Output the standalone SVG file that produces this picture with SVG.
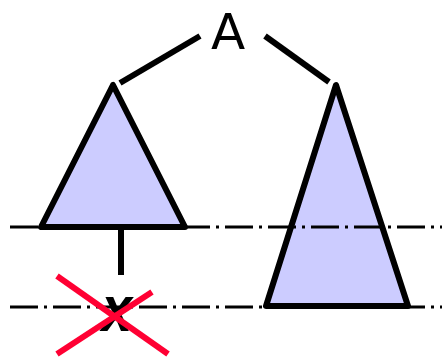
<svg xmlns="http://www.w3.org/2000/svg" width="442" height="358" viewBox="0 0 442 358">
<style>
.tri{fill:#ccccff;stroke:#000;stroke-width:6;stroke-linejoin:round}
.edge{stroke:#000;stroke-width:6;fill:none}
.guide{stroke:#000;stroke-width:3;stroke-dasharray:28,6,3,6;fill:none}
.cross{stroke:#ff0033;stroke-width:6;fill:none}
.lbl{font-family:"DejaVu Sans",sans-serif;fill:#000}
</style>
<rect width="442" height="358" fill="#fff"/>
<g id="connectors">
<line class="edge" x1="120" y1="83" x2="200" y2="36"/>
<line class="edge" x1="265" y1="36" x2="329" y2="82"/>
<line class="edge" x1="121" y1="229" x2="121" y2="275"/>
</g>
<g id="nodeA"><text class="lbl" x="228" y="49" font-size="50" text-anchor="middle">A</text></g>
<g id="leftTree"><polygon class="tri" points="113,85 41,227 185,227"/></g>
<g id="rightTree"><polygon class="tri" points="336,85 266,306 408,306"/></g>
<g id="guides">
<line class="guide" x1="10" y1="227" x2="442" y2="227"/>
<line class="guide" x1="10" y1="307" x2="442" y2="307"/>
</g>
<g id="nodeX">
<text x="117" y="331" font-family="Liberation Sans,sans-serif" font-weight="bold" font-style="italic" font-size="64" text-anchor="middle" transform="translate(117 0) scale(0.85 1) translate(-117 0)">x</text>
<line class="cross" x1="57" y1="276" x2="168" y2="354"/>
<line class="cross" x1="57" y1="354" x2="152" y2="292"/>
</g>
</svg>
